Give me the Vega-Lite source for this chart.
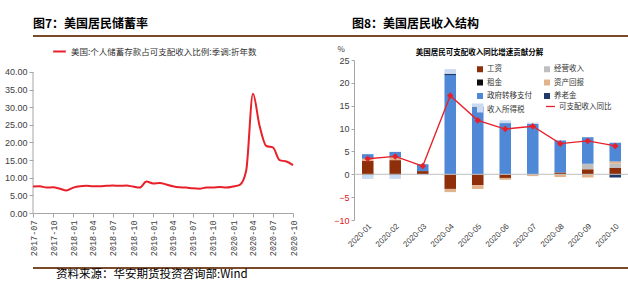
{
  "$schema": "https://vega.github.io/schema/vega-lite/v6.json",
  "padding": {"left": 2, "top": 18, "right": 0, "bottom": 0},
  "background": "white",
  "config": {
    "view": {"stroke": null},
    "font": "Noto Sans CJK SC",
    "axis": {"domainColor": "#A6A6A6", "tickColor": "#A6A6A6", "labelColor": "#404040", "grid": false, "titleFont": "Noto Sans CJK SC"}
  },
  "spacing": 7,
  "vconcat": [
    {
      "hconcat": [
        {
          "width": 319, "height": 2,
          "title": {"text": "图7：美国居民储蓄率", "anchor": "start", "fontSize": 12, "fontWeight": "bold", "color": "#000000", "offset": 4},
          "data": {"values": [{"k": 1}]},
          "mark": {"type": "rect", "color": "#7A4A2A"},
          "encoding": {}
        },
        {
          "width": 305, "height": 2,
          "title": {"text": "图8：美国居民收入结构", "anchor": "start", "fontSize": 12, "fontWeight": "bold", "color": "#000000", "offset": 4},
          "data": {"values": [{"k": 1}]},
          "mark": {"type": "rect", "color": "#7A4A2A"},
          "encoding": {}
        }
      ],
      "spacing": 0
    },
    {
      "spacing": 11,
      "vconcat": [
        {
          "hconcat": [
            {
              "width": 260, "height": 153,
              "layer": [
                {
                  "data": {"values": [{"date": "2017-07-01", "lo": 0, "hi": 40}]},
                  "mark": {"type": "rule", "color": "#A6A6A6", "strokeWidth": 1},
                  "encoding": {
                    "x": {"field": "date", "type": "temporal"},
                    "y": {"field": "lo", "type": "quantitative"},
                    "y2": {"field": "hi"}
                  }
                },
                {
                  "data": {"values": [
                    {"date": "2017-07-01", "v": 7.5}, {"date": "2017-08-01", "v": 7.6}, {"date": "2017-09-01", "v": 7.2},
                    {"date": "2017-10-01", "v": 7.3}, {"date": "2017-11-01", "v": 6.9}, {"date": "2017-12-01", "v": 6.4},
                    {"date": "2018-01-01", "v": 7.2}, {"date": "2018-02-01", "v": 7.6}, {"date": "2018-03-01", "v": 7.7},
                    {"date": "2018-04-01", "v": 7.6}, {"date": "2018-05-01", "v": 7.6}, {"date": "2018-06-01", "v": 7.7},
                    {"date": "2018-07-01", "v": 7.8}, {"date": "2018-08-01", "v": 7.7}, {"date": "2018-09-01", "v": 7.8},
                    {"date": "2018-10-01", "v": 7.5}, {"date": "2018-11-01", "v": 7.2}, {"date": "2018-12-01", "v": 8.9},
                    {"date": "2019-01-01", "v": 8.4}, {"date": "2019-02-01", "v": 8.5}, {"date": "2019-03-01", "v": 8.1},
                    {"date": "2019-04-01", "v": 7.6}, {"date": "2019-05-01", "v": 7.3}, {"date": "2019-06-01", "v": 7.2},
                    {"date": "2019-07-01", "v": 7.0}, {"date": "2019-08-01", "v": 6.9}, {"date": "2019-09-01", "v": 7.2},
                    {"date": "2019-10-01", "v": 7.2}, {"date": "2019-11-01", "v": 7.4}, {"date": "2019-12-01", "v": 7.2},
                    {"date": "2020-01-01", "v": 7.5}, {"date": "2020-02-01", "v": 8.0}, {"date": "2020-03-01", "v": 12.0},
                    {"date": "2020-04-01", "v": 33.8}, {"date": "2020-05-01", "v": 24.8}, {"date": "2020-06-01", "v": 19.0},
                    {"date": "2020-07-01", "v": 18.6}, {"date": "2020-08-01", "v": 15.0}, {"date": "2020-09-01", "v": 14.6},
                    {"date": "2020-10-01", "v": 13.6}
                  ]},
                  "mark": {"type": "line", "strokeWidth": 2, "interpolate": "monotone"},
                  "encoding": {
                    "x": {"field": "date", "type": "temporal"},
                    "y": {"field": "v", "type": "quantitative"},
                    "stroke": {"datum": "美国:个人储蓄存款占可支配收入比例:季调:折年数", "type": "nominal",
                      "scale": {"range": ["#E8202A"]},
                      "legend": {"orient": "none", "legendX": 19, "legendY": -16, "title": null, "symbolType": "stroke", "symbolStrokeWidth": 2, "symbolSize": 160, "labelFontSize": 8.5, "labelLimit": 400, "labelColor": "#333333", "labelFont": "Noto Sans CJK SC"}}
                  }
                }
              ],
              "encoding": {
                "x": {"field": "date", "type": "temporal",
                  "scale": {"type": "utc", "domain": ["2017-07-01", "2020-10-01"]},
                  "axis": {"format": "%Y-%m", "labelAngle": -90, "tickCount": {"interval": "month", "step": 3}, "labelFont": "Liberation Mono", "labelFontSize": 8.5, "labelColor": "#404040", "title": null, "tickSize": 4, "labelPadding": 3}},
                "y": {"type": "quantitative",
                  "scale": {"domain": [0, 43.4], "nice": false},
                  "axis": {"values": [0, 5, 10, 15, 20, 25, 30, 35, 40], "format": ".2f", "domain": false, "labelFont": "Liberation Sans", "labelFontSize": 9, "title": null, "tickSize": 4, "minExtent": 31, "labelOverlap": false}}
              }
            },
            {
              "width": 275, "height": 160,
              "title": {"text": "美国居民可支配收入同比增速贡献分解", "fontSize": 7.5, "fontWeight": "bold", "color": "#000000", "anchor": "middle", "offset": -11, "dx": -12},
              "layer": [
                {
                  "data": {"values": [
                    {"m": "2020-01", "item": "工资", "ord": 1, "v": 2.9}, {"m": "2020-01", "item": "资产回报", "ord": 4, "v": 0.5}, {"m": "2020-01", "item": "政府转移支付", "ord": 5, "v": 1.0}, {"m": "2020-01", "item": "养老金", "ord": 6, "v": -0.2}, {"m": "2020-01", "item": "收入所得税", "ord": 7, "v": -0.8},
                    {"m": "2020-02", "item": "工资", "ord": 1, "v": 3.1}, {"m": "2020-02", "item": "资产回报", "ord": 4, "v": 0.6}, {"m": "2020-02", "item": "政府转移支付", "ord": 5, "v": 1.2}, {"m": "2020-02", "item": "养老金", "ord": 6, "v": -0.2}, {"m": "2020-02", "item": "收入所得税", "ord": 7, "v": -0.8},
                    {"m": "2020-03", "item": "工资", "ord": 1, "v": 0.7}, {"m": "2020-03", "item": "政府转移支付", "ord": 5, "v": 1.5}, {"m": "2020-03", "item": "收入所得税", "ord": 7, "v": -0.2},
                    {"m": "2020-04", "item": "工资", "ord": 1, "v": -3.2}, {"m": "2020-04", "item": "资产回报", "ord": 4, "v": -0.7}, {"m": "2020-04", "item": "政府转移支付", "ord": 5, "v": 21.7}, {"m": "2020-04", "item": "养老金", "ord": 6, "v": 0.3}, {"m": "2020-04", "item": "收入所得税", "ord": 7, "v": 1.0},
                    {"m": "2020-05", "item": "工资", "ord": 1, "v": -2.4}, {"m": "2020-05", "item": "资产回报", "ord": 4, "v": -0.8}, {"m": "2020-05", "item": "政府转移支付", "ord": 5, "v": 14.6}, {"m": "2020-05", "item": "养老金", "ord": 6, "v": 0.2}, {"m": "2020-05", "item": "收入所得税", "ord": 7, "v": 0.7},
                    {"m": "2020-06", "item": "工资", "ord": 1, "v": -0.8}, {"m": "2020-06", "item": "资产回报", "ord": 4, "v": -0.4}, {"m": "2020-06", "item": "政府转移支付", "ord": 5, "v": 11.2}, {"m": "2020-06", "item": "收入所得税", "ord": 7, "v": 0.6},
                    {"m": "2020-07", "item": "资产回报", "ord": 4, "v": -0.4}, {"m": "2020-07", "item": "政府转移支付", "ord": 5, "v": 11.0}, {"m": "2020-07", "item": "收入所得税", "ord": 7, "v": 0.3},
                    {"m": "2020-08", "item": "工资", "ord": 1, "v": 0.4}, {"m": "2020-08", "item": "资产回报", "ord": 4, "v": -0.6}, {"m": "2020-08", "item": "政府转移支付", "ord": 5, "v": 7.0},
                    {"m": "2020-09", "item": "工资", "ord": 1, "v": 1.1}, {"m": "2020-09", "item": "经营收入", "ord": 2, "v": 1.2}, {"m": "2020-09", "item": "资产回报", "ord": 4, "v": -0.7}, {"m": "2020-09", "item": "政府转移支付", "ord": 5, "v": 5.8},
                    {"m": "2020-10", "item": "工资", "ord": 1, "v": 1.4}, {"m": "2020-10", "item": "经营收入", "ord": 2, "v": 0.9}, {"m": "2020-10", "item": "资产回报", "ord": 4, "v": 0.5}, {"m": "2020-10", "item": "养老金", "ord": 6, "v": -0.7}, {"m": "2020-10", "item": "政府转移支付", "ord": 5, "v": 4.1}
                  ]},
                  "mark": {"type": "bar"},
                  "encoding": {
                    "x": {"field": "m", "type": "ordinal", "sort": null,
                      "scale": {"paddingInner": 0.58, "paddingOuter": 0.29},
                      "axis": {"labelAngle": -45, "labelFontSize": 8, "labelFont": "Liberation Sans", "labelColor": "#404040", "domain": false, "ticks": false, "title": null, "labelPadding": 2}},
                    "y": {"field": "v", "type": "quantitative", "stack": "zero",
                      "scale": {"domain": [-10, 25]},
                      "axis": {"values": [-10, -5, 0, 5, 10, 15, 20, 25], "labelOverlap": false, "labelFont": "Liberation Sans", "labelFontSize": 9, "tickSize": 3,
                        "labelColor": {"condition": {"test": "datum.value < 0", "value": "#E02020"}, "value": "#404040"},
                        "title": "%", "titleAngle": 0, "titleAlign": "left", "titleBaseline": "middle", "titleX": -17, "titleY": -11, "titleFontSize": 8, "titleFontWeight": "normal", "titleColor": "#404040"}},
                    "color": {"field": "item", "type": "nominal",
                      "scale": {"domain": ["工资", "经营收入", "租金", "资产回报", "政府转移支付", "养老金", "收入所得税"],
                        "range": ["#8E2F0A", "#BFBFBF", "#0D0D0D", "#E2B48E", "#4F88D6", "#1F3A68", "#C9DAF2"]},
                      "legend": {"orient": "none", "legendX": 122, "legendY": 5, "title": null, "columns": 2, "direction": "horizontal", "symbolType": "square", "symbolSize": 36, "labelFontSize": 7.5, "labelColor": "#333333", "columnPadding": 11, "rowPadding": 5.5, "labelOffset": 3}},
                    "order": {"field": "ord", "type": "quantitative"}
                  }
                },
                {
                  "data": {"values": [{"v": 0}]},
                  "mark": {"type": "rule", "color": "#BFBFBF", "strokeWidth": 1},
                  "encoding": {"y": {"field": "v", "type": "quantitative",
                    "axis": {"values": [-10, -5, 0, 5, 10, 15, 20, 25], "labelOverlap": false, "labelFont": "Liberation Sans", "labelFontSize": 9, "tickSize": 3,
                        "labelColor": {"condition": {"test": "datum.value < 0", "value": "#E02020"}, "value": "#404040"},
                        "title": "%", "titleAngle": 0, "titleAlign": "left", "titleBaseline": "middle", "titleX": -17, "titleY": -11, "titleFontSize": 8, "titleFontWeight": "normal", "titleColor": "#404040"}}}
                },
                {
                  "data": {"values": [
                    {"m": "2020-01", "v": 3.4}, {"m": "2020-02", "v": 3.9}, {"m": "2020-03", "v": 1.8}, {"m": "2020-04", "v": 17.2},
                    {"m": "2020-05", "v": 11.8}, {"m": "2020-06", "v": 9.9}, {"m": "2020-07", "v": 10.5}, {"m": "2020-08", "v": 6.7},
                    {"m": "2020-09", "v": 7.3}, {"m": "2020-10", "v": 6.2}
                  ]},
                  "mark": {"type": "line", "strokeWidth": 1.3, "point": {"shape": "diamond", "size": 14, "filled": true, "color": "#E8202A"}},
                  "encoding": {
                    "x": {"field": "m", "type": "ordinal", "sort": null},
                    "y": {"field": "v", "type": "quantitative",
                      "axis": {"values": [-10, -5, 0, 5, 10, 15, 20, 25], "labelOverlap": false, "labelFont": "Liberation Sans", "labelFontSize": 9, "tickSize": 3,
                        "labelColor": {"condition": {"test": "datum.value < 0", "value": "#E02020"}, "value": "#404040"},
                        "title": "%", "titleAngle": 0, "titleAlign": "left", "titleBaseline": "middle", "titleX": -17, "titleY": -11, "titleFontSize": 8, "titleFontWeight": "normal", "titleColor": "#404040"}},
                    "stroke": {"datum": "可支配收入同比", "type": "nominal",
                      "scale": {"range": ["#E8202A"]},
                      "legend": {"orient": "none", "legendX": 191, "legendY": 41, "title": null, "symbolType": "stroke", "symbolStrokeWidth": 1.3, "symbolSize": 80, "labelFontSize": 7.5, "labelColor": "#333333", "labelOffset": 3}}
                  }
                }
              ]
            }
          ],
          "spacing": 35,
          "resolve": {"scale": {"stroke": "independent", "color": "independent"}, "legend": {"stroke": "independent", "color": "independent"}}
        },
        {
          "width": 624, "height": 2,
          "title": {"text": "资料来源：华安期货投资咨询部:Wind", "orient": "bottom", "anchor": "start", "fontSize": 11.5, "fontWeight": "normal", "color": "#000000", "offset": 0, "dx": 23},
          "data": {"values": [{"k": 1}]},
          "mark": {"type": "rect", "color": "#7A4A2A"},
          "encoding": {}
        }
      ]
    }
  ]
}
